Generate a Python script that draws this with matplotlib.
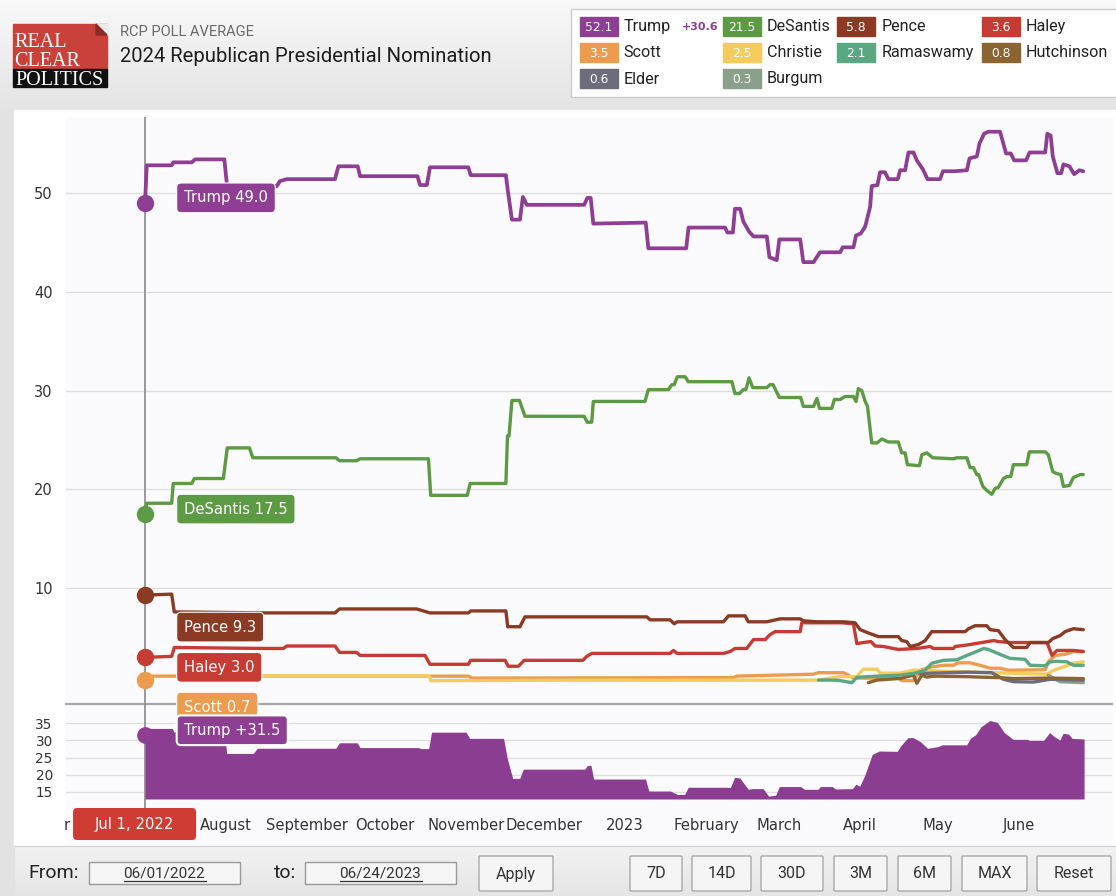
import datetime as dt
import numpy as np
import matplotlib
matplotlib.use("Agg")
import matplotlib.pyplot as plt
from matplotlib.patches import Rectangle, FancyBboxPatch, Polygon

W, H = 1116, 896
START = dt.date(2022, 7, 1)

# ---------------- data: (days after Jul 1 2022, value) ----------------
TRUMP = [(0, 49.0), (0.65, 52.8), (10.2, 52.8), (10.8, 53.1), (17.9, 53.1), (19.2, 53.4), (30.4, 53.4),
         (31.3, 51.0), (32, 50.7), (50.5, 50.7), (51.7, 51.2), (54.3, 51.4), (72.8, 51.4), (74.1, 52.7),
         (81.5, 52.7), (82.4, 51.7), (104.4, 51.7), (105.4, 50.8), (108.0, 50.8), (109.2, 52.6), (123.9, 52.6),
         (124.8, 51.8), (138.3, 51.8), (139.0, 50.3), (140.6, 47.3), (143.7, 47.3), (144.8, 49.6), (146.3, 48.8),
         (168.3, 48.8), (169.5, 49.5), (170.8, 49.5), (171.8, 46.9), (191.9, 47.0), (192.9, 44.4), (207.4, 44.4),
         (208.3, 46.5), (222.3, 46.5), (223.2, 46.0), (225.3, 46.0), (226.1, 48.4), (228.1, 48.4), (229.3, 47.1),
         (231.5, 46.1), (233.2, 45.6), (238.3, 45.6), (239.3, 43.5), (242.1, 43.2), (243.1, 45.3), (251.1, 45.3),
         (252.3, 43.0), (256.2, 43.0), (258.7, 44.0), (266.4, 44.0), (267.4, 44.5), (271.5, 44.5), (272.5, 45.7),
         (274.3, 45.9), (276.0, 46.6), (277.9, 48.6), (278.5, 50.7), (280.7, 50.8), (281.7, 52.1), (283.6, 52.1),
         (284.9, 51.4), (288.5, 51.4), (289.4, 52.3), (291.3, 52.3), (292.6, 54.1), (294.5, 54.1), (295.8, 53.3),
         (298.1, 52.4), (299.9, 51.4), (304.7, 51.4), (305.8, 52.2), (310.2, 52.2), (315.0, 52.3), (316.0, 53.5),
         (318.8, 53.7), (319.8, 55.0), (321.6, 56.0), (323.2, 56.2), (327.7, 56.2), (330.0, 54.0), (331.8, 54.0),
         (333.1, 53.3), (337.7, 53.3), (339.0, 54.1), (345.0, 54.1), (345.8, 56.0), (347.1, 55.8), (347.9, 53.7),
         (349.7, 52.0), (351.1, 52.0), (352.0, 52.9), (354.3, 52.7), (356.1, 51.9), (358.1, 52.3), (359.6, 52.2)]

DESANTIS = [(0, 17.5), (0.65, 18.6), (10.2, 18.6), (10.8, 20.6), (17.9, 20.6), (18.9, 21.1), (30.0, 21.1),
            (31.5, 24.2), (40.0, 24.2), (41.3, 23.2), (73.2, 23.2), (74.5, 22.9), (81.1, 22.9), (82.4, 23.1),
            (108.6, 23.1), (109.5, 19.4), (123.5, 19.4), (124.6, 20.6), (138.3, 20.6), (138.9, 25.4), (139.5, 25.4),
            (140.6, 29.0), (143.5, 29.0), (145.6, 27.4), (168.3, 27.4), (169.5, 26.8), (171.2, 26.8), (171.8, 28.9),
            (191.6, 28.9), (192.9, 30.1), (200.6, 30.1), (201.9, 30.6), (202.8, 30.6), (204.0, 31.4), (207.0, 31.4),
            (208.2, 30.9), (224.9, 30.9), (226.1, 29.7), (227.8, 29.7), (229.3, 30.1), (230.3, 30.1), (231.5, 31.3),
            (232.9, 30.3), (238.3, 30.3), (239.5, 30.6), (240.7, 30.6), (241.8, 30.0), (243.1, 29.3), (251.3, 29.3),
            (252.3, 28.4), (256.2, 28.4), (257.5, 29.2), (258.5, 28.2), (263.2, 28.2), (264.2, 29.1), (266.4, 29.1),
            (268.3, 29.4), (271.5, 29.4), (272.5, 28.9), (273.4, 30.2), (274.7, 30.0), (276.0, 28.9), (276.9, 28.4),
            (278.5, 24.7), (280.5, 24.7), (282.4, 25.1), (284.9, 24.8), (288.7, 24.8), (290.0, 23.7), (291.3, 23.7),
            (292.2, 22.5), (296.8, 22.4), (297.7, 23.5), (299.6, 23.7), (301.9, 23.2), (309.8, 23.1), (311.1, 23.2),
            (315.0, 23.2), (316.2, 22.2), (317.5, 22.2), (318.8, 21.5), (319.5, 21.5), (321.1, 20.3), (322.6, 19.9),
            (324.5, 19.5), (325.8, 20.1), (327.0, 20.2), (329.0, 21.1), (330.3, 21.3), (331.8, 21.3), (332.8, 22.5),
            (337.9, 22.5), (338.9, 23.8), (345.0, 23.8), (346.2, 23.5), (347.9, 21.8), (349.4, 21.6), (351.0, 21.5),
            (352.0, 20.3), (354.3, 20.4), (355.8, 21.2), (358.4, 21.5), (359.6, 21.5)]

PENCE = [(0, 9.3), (10.2, 9.4), (11.2, 7.6), (46, 7.5), (72.8, 7.5), (74.5, 7.9), (104.1, 7.9), (109.2, 7.5),
         (123.9, 7.5), (124.8, 7.7), (138.3, 7.7), (139.0, 6.1), (143.7, 6.1), (145.6, 7.1), (192.3, 7.1),
         (193.6, 6.8), (201.2, 6.8), (202.8, 6.4), (204.0, 6.6), (221.7, 6.6), (223.6, 7.2), (230.0, 7.2),
         (231.2, 6.6), (238.3, 6.6), (243.4, 6.9), (251.1, 6.9), (252.3, 6.7), (257.5, 6.6), (267.7, 6.6),
         (272.1, 6.5), (274.1, 5.8), (277.9, 5.4), (281.1, 5.1), (288.7, 5.1), (290.0, 4.7), (291.9, 4.6),
         (293.2, 4.1), (296.4, 4.3), (299.0, 4.7), (301.5, 5.6), (314.3, 5.6), (315.6, 5.9), (318.1, 6.2),
         (322.6, 6.2), (323.9, 5.8), (327.1, 5.7), (329.6, 4.8), (332.8, 4.0), (337.9, 4.0), (339.2, 4.5),
         (346.2, 4.5), (347.9, 4.9), (350.7, 5.2), (352.6, 5.6), (355.8, 5.9), (359.6, 5.8)]

HALEY = [(0, 3.0), (10.2, 3.1), (11.2, 4.0), (46, 3.9), (53.0, 3.9), (54.3, 4.15), (72.8, 4.15), (74.5, 3.5),
         (81.1, 3.5), (82.4, 3.2), (107.3, 3.2), (109.2, 2.3), (123.9, 2.3), (124.8, 2.7), (138.0, 2.7),
         (139.2, 2.1), (143.1, 2.1), (145.3, 2.7), (167.8, 2.7), (169.3, 3.1), (171.2, 3.4), (201.2, 3.4),
         (202.5, 3.7), (204.0, 3.4), (221.7, 3.4), (224.3, 3.6), (226.1, 3.9), (230.6, 3.9), (233.2, 4.8),
         (237.7, 4.8), (239.5, 5.3), (241.5, 5.6), (251.1, 5.6), (251.7, 6.5), (267.0, 6.5), (271.5, 6.4),
         (272.8, 4.4), (275.3, 4.5), (278.2, 4.6), (279.8, 4.15), (283.0, 4.1), (288.7, 3.8), (295.8, 3.9),
         (300.9, 4.1), (302.2, 3.9), (309.8, 3.9), (310.5, 4.1), (315.0, 4.25), (320.7, 4.5), (325.2, 4.7),
         (327.1, 4.6), (331.5, 4.5), (345.7, 4.5), (347.6, 3.2), (349.5, 3.7), (355.8, 3.7), (359.6, 3.6)]

SCOTT = [(0, 0.7), (0.6, 1.1), (123.9, 1.1), (125.3, 0.9), (225.4, 0.95), (226.8, 1.1), (256.2, 1.3),
         (258.1, 1.45), (267.7, 1.45), (269.6, 1.2), (271.5, 0.9), (288.7, 0.9), (290.0, 0.65), (294.5, 0.65),
         (297.1, 1.7), (300.9, 2.0), (306.0, 2.2), (309.8, 2.2), (311.7, 2.45), (316.2, 2.45), (320.0, 2.2),
         (323.9, 1.9), (327.7, 1.9), (330.9, 1.7), (345.0, 1.75), (346.2, 2.55), (348.8, 3.2), (352.6, 3.3),
         (355.8, 3.6), (359.6, 3.55)]

CHRISTIE = [(45, 1.1), (109, 1.1), (109.5, 0.64), (171, 0.7), (258.1, 0.7), (266.4, 1.05), (272.8, 1.05),
            (275.3, 1.8), (280.5, 1.8), (281.7, 1.4), (289.4, 1.4), (294.5, 1.7), (331.5, 1.4), (345.7, 1.3),
            (348.3, 1.7), (352.1, 2.05), (355.8, 2.4), (359.6, 2.55)]

RAMASWAMY = [(258.1, 0.7), (262.6, 0.7), (266.4, 0.65), (270.9, 0.44), (272.8, 0.98), (280.5, 1.1), (289.4, 1.2),
             (295.1, 1.4), (299.0, 1.7), (301.5, 2.4), (306.0, 2.7), (311.1, 2.75), (315.0, 3.2), (318.8, 3.6),
             (321.4, 3.9), (323.2, 3.8), (327.7, 3.3), (331.5, 2.9), (337.3, 2.8), (339.2, 2.2), (345.0, 2.15),
             (346.9, 2.55), (349.5, 2.6), (353.3, 2.55), (355.8, 2.2), (359.6, 2.2)]

HUTCHINSON = [(277.2, 0.44), (280.5, 0.7), (289.4, 0.87), (294.5, 1.2), (295.8, 0.37), (297.7, 1.2), (299.6, 1.0),
              (302.2, 1.1), (315.0, 1.05), (320.0, 1.0), (327.7, 0.95), (332.8, 0.85), (345.7, 0.9), (359.6, 0.85)]

ELDER = [(297.1, 1.3), (300.9, 1.4), (315.0, 1.5), (324.5, 1.45), (329.0, 0.78), (332.8, 0.54), (340.5, 0.5),
         (346.9, 0.78), (359.6, 0.7)]

BURGUM = [(346.2, 1.2), (350.7, 0.54), (359.6, 0.44)]

SPREAD = [(0, 31.5), (0.6, 33.5), (10.5, 33.5), (11, 32.5), (18, 32.5), (19, 32.3), (30.4, 32.3), (31.3, 26.2),
          (41.5, 26.2), (43, 27.7), (73.1, 27.7), (74.5, 29.3), (81.3, 29.3), (82.4, 27.9), (104.6, 27.9),
          (105.9, 27.6), (108.7, 27.6), (109.8, 32.4), (123.0, 32.4), (124.4, 30.6), (137.4, 30.6), (138.8, 24.8),
          (140.9, 18.9), (143.6, 18.9), (145.0, 21.6), (168.5, 21.6), (169.6, 22.7), (170.9, 22.7), (171.9, 18.7),
          (191.8, 18.7), (193.1, 15.2), (201.3, 15.2), (204.1, 14.2), (206.8, 14.2), (208.2, 16.3), (223.0, 16.3),
          (224.3, 16.2), (226.0, 19.2), (228.0, 19.0), (229.4, 17.5), (231.2, 15.7), (232.8, 15.9), (236.9, 15.9),
          (239.0, 13.7), (241.7, 14.0), (243.1, 16.5), (251.3, 16.5), (252.7, 15.7), (257.9, 15.7), (258.8, 16.5),
          (263.4, 16.5), (264.6, 15.8), (271.1, 15.9), (272.5, 17.2), (273.9, 16.6), (275.9, 19.9), (278.7, 25.9),
          (281.4, 26.9), (288.3, 26.8), (289.6, 28.4), (292.4, 30.8), (294.4, 30.8), (297.2, 29.6), (299.9, 27.7),
          (304.0, 28.2), (305.4, 28.7), (314.9, 28.7), (316.3, 30.6), (318.3, 31.6), (320.4, 34.0), (323.8, 35.8),
          (326.6, 35.3), (329.3, 32.3), (332.7, 30.3), (338.2, 30.3), (338.9, 30.0), (344.4, 30.0), (346.7, 32.3),
          (348.5, 31.1), (350.6, 30.1), (351.9, 32.1), (354.0, 31.8), (355.3, 30.6), (359.9, 30.4)]

CANDIDATES = ["Trump", "DeSantis", "Pence", "Haley", "Scott", "Christie",
              "Ramaswamy", "Hutchinson", "Elder", "Burgum"]
SERIES = [TRUMP, DESANTIS, PENCE, HALEY, SCOTT, CHRISTIE, RAMASWAMY, HUTCHINSON, ELDER, BURGUM]
LEGEND_VALUES = [52.1, 21.5, 5.8, 3.6, 3.5, 2.5, 2.1, 0.8, 0.6, 0.3]
SPREAD_NOW = 30.6
LABELLED = ["Trump", "DeSantis", "Pence", "Haley", "Scott"]

MONTH_DATES = [dt.date(2022, 6, 1), dt.date(2022, 8, 1), dt.date(2022, 9, 1), dt.date(2022, 10, 1),
               dt.date(2022, 11, 1), dt.date(2022, 12, 1), dt.date(2023, 1, 1), dt.date(2023, 2, 1),
               dt.date(2023, 3, 1), dt.date(2023, 4, 1), dt.date(2023, 5, 1), dt.date(2023, 6, 1)]
MONTH_LABELS = ["r", "August", "September", "October", "November", "December", "2023",
                "February", "March", "April", "May", "June"]
MAIN_YTICKS = [10, 20, 30, 40, 50]
LOW_YTICKS = [15, 20, 25, 30, 35]
CURSOR_LABEL = "Jul 1, 2022"
FROM_DATE, TO_DATE = "06/01/2022", "06/24/2023"
BUTTONS = ["7D", "14D", "30D", "3M", "6M", "MAX", "Reset"]

# ---------------- styles ----------------
COLORS = {"Trump": "#8e3e93", "DeSantis": "#5c9a43", "Pence": "#8b3a23", "Haley": "#c63b33",
          "Scott": "#eb9c4e", "Christie": "#f5cb5e", "Ramaswamy": "#5aa883", "Hutchinson": "#8b6432",
          "Elder": "#6c6c7c", "Burgum": "#8ba08a"}
LABEL_DY = {"Trump": 5, "DeSantis": 5, "Pence": -32, "Haley": -10, "Scott": -27}
SANS = ["DejaVu Sans"]
ROBOTO = ["Roboto", "DejaVu Sans"]
XMIN, XMAX = -30.3, 370.6

fig = plt.figure(figsize=(W / 100, H / 100), dpi=100, facecolor="#e6e6e6")


def px_rect(x0, y0, x1, y1):
    return [x0 / W, 1 - y1 / H, (x1 - x0) / W, (y1 - y0) / H]


def day_px(d):
    return 66 + (d - XMIN) / (XMAX - XMIN) * (1112 - 66)


# ---------------- background / page chrome ----------------
bg = fig.add_axes([0, 0, 1, 1], zorder=0)
bg.axis("off")
grad = np.linspace(0, 1, 64)[:, None, None]
top_c, bot_c = np.array([0.975, 0.975, 0.975]), np.array([0.895, 0.895, 0.895])
bg.imshow(top_c + (bot_c - top_c) * grad, extent=(0, W, 110, 0), aspect="auto", zorder=0)
grad2 = np.linspace(0, 1, 32)[:, None, None]
bg.imshow(np.array([0.95, 0.95, 0.95]) + (np.array([0.9, 0.9, 0.9]) - 0.95) * grad2,
          extent=(14, W, H, 846), aspect="auto", zorder=0)
bg.add_patch(Rectangle((0, 110), 14, H - 110, color="#e2e2e2", zorder=1))
bg.add_patch(Rectangle((14, 110), W - 14, 736, color="white", zorder=1))
bg.add_patch(Rectangle((66, 117), 1046, 728, color="#fbfbfd", zorder=1))
bg.plot([14, W], [846, 846], color="#d5d5d5", lw=1, zorder=2)
bg.set_xlim(0, W)
bg.set_ylim(H, 0)

# logo
bg.add_patch(Rectangle((13, 24), 94, 45, color="#c9413a", zorder=3))
bg.add_patch(Polygon([(96, 24), (107.5, 24), (107.5, 35.5)], closed=True, color="#ececec", zorder=4))
bg.add_patch(Polygon([(96, 24), (107, 35), (96, 35)], closed=True, color="#8e2a24", zorder=4))
bg.add_patch(Rectangle((13, 69), 94, 18, color="#111111", zorder=3))
logo_font = ["Liberation Serif", "DejaVu Serif"]
bg.text(14, 47, "REAL", color="white", fontsize=14.5, family=logo_font, va="baseline", zorder=5)
bg.text(14, 65.5, "CLEAR", color="white", fontsize=14.5, family=logo_font, va="baseline", zorder=5)
bg.text(60, 85, "POLITICS", color="white", fontsize=14.5, family=logo_font, va="baseline",
        ha="center", zorder=5)

bg.text(120, 32, "RCP POLL AVERAGE", fontsize=10.5, color="#6a6a6a", family=ROBOTO, va="center", zorder=5)
bg.text(120, 56, "2024 Republican Presidential Nomination", fontsize=14.6, color="#1e1e1e",
        family=ROBOTO, va="center", zorder=5)

# legend panel
bg.add_patch(Rectangle((571, 9), 560, 88, facecolor="white", edgecolor="#cccccc", lw=1, zorder=3))
col_x = [579.5, 723, 837.3, 982]
row_y = [26.7, 52.7, 79]
for i, (name, val) in enumerate(zip(CANDIDATES, LEGEND_VALUES)):
    r, c = divmod(i, 4)
    x0, yc = col_x[c], row_y[r]
    bg.add_patch(Rectangle((x0, yc - 9.5), 38, 19, color=COLORS[name], zorder=4))
    bg.text(x0 + 19, yc + 0.5, f"{val:.1f}", color="white", fontsize=8.8, family=SANS,
            ha="center", va="center", zorder=5)
    bg.text(x0 + 44, yc, name, color="#222222", fontsize=11.6, family=ROBOTO, va="center", zorder=5)
    if name == "Trump":
        bg.text(682, yc + 0.5, f"+{SPREAD_NOW:.1f}", color=COLORS["Trump"], fontsize=8,
                fontweight="bold", family=SANS, va="center", zorder=5)

# bottom controls
bg.text(28, 873, "From:", fontsize=14, color="#222222", family=ROBOTO, va="center", zorder=5)
bg.text(274, 873, "to:", fontsize=14, color="#222222", family=ROBOTO, va="center", zorder=5)
for (x0, x1), txt in zip([(89, 240), (305, 456)], [FROM_DATE, TO_DATE]):
    bg.add_patch(Rectangle((x0, 862), x1 - x0, 22, facecolor="#f6f6f6", edgecolor="#9a9a9a", lw=1, zorder=3))
    bg.text((x0 + x1) / 2, 873.5, txt, fontsize=11, color="#333333", family=ROBOTO,
            ha="center", va="center", zorder=5)
    bg.plot([(x0 + x1) / 2 - 41, (x0 + x1) / 2 + 41], [881.5, 881.5], color="#333333", lw=0.9, zorder=5)

btn_boxes = [(479, 553), (630, 682), (692, 751), (761, 823), (834, 887), (898, 951), (962, 1027), (1037, 1111)]
for (x0, x1), txt in zip(btn_boxes, ["Apply"] + BUTTONS):
    bg.add_patch(FancyBboxPatch((x0 + 1, 857), x1 - x0 - 2, 33, boxstyle="round,pad=1",
                                facecolor="#f5f5f5", edgecolor="#a9a9a9", lw=1, zorder=3))
    bg.text((x0 + x1) / 2, 874, txt, fontsize=11.5, color="#333333", family=ROBOTO,
            ha="center", va="center", zorder=5)

# ---------------- main chart ----------------
ax = fig.add_axes(px_rect(66, 117, 1112, 704), zorder=2)
ax.set_facecolor("none")
ax.set_xlim(XMIN, XMAX)
ax.set_ylim(-1.72, 57.69)
for s in ["top", "left", "right"]:
    ax.spines[s].set_visible(False)
ax.spines["bottom"].set_color("#a9a9a9")
ax.spines["bottom"].set_linewidth(1.6)
ax.set_yticks(MAIN_YTICKS)
ax.set_yticklabels([str(v) for v in MAIN_YTICKS], fontsize=10.5, color="#333333", family=SANS)
ax.tick_params(axis="y", length=0, pad=9.5)
ax.set_xticks([])
ax.grid(axis="y", color="#dedede", lw=1)
ax.set_axisbelow(True)
ax.axvline(0, color="#8a8a8a", lw=1.2, zorder=1.5)

order = ["Scott", "Christie", "Burgum", "Elder", "Hutchinson", "Ramaswamy", "Haley", "Pence",
         "DeSantis", "Trump"]
for name in order:
    data = SERIES[CANDIDATES.index(name)]
    d = np.array([p[0] for p in data])
    v = np.array([p[1] for p in data])
    ax.plot(d, v, color=COLORS[name], lw=2.7 if name == "Trump" else 2.4,
            solid_joinstyle="round", solid_capstyle="round", zorder=3)

for name in LABELLED:
    data = SERIES[CANDIDATES.index(name)]
    d0, v0 = data[0]
    ax.plot(d0, v0, "o", ms=11.5, color=COLORS[name], zorder=5, clip_on=False)
    ax.annotate(f"{name} {v0:.1f}", xy=(d0, v0), xytext=(39, LABEL_DY[name]), textcoords="offset pixels",
                ha="left", va="center", fontsize=10.6, family=SANS, color="white", zorder=6,
                annotation_clip=False,
                bbox=dict(boxstyle="round,pad=0.5,rounding_size=0.3", fc=COLORS[name], ec="white", lw=0.8))

# ---------------- spread chart ----------------
axl = fig.add_axes(px_rect(66, 704, 1112, 799), zorder=3)
axl.set_facecolor("none")
axl.set_xlim(XMIN, XMAX)
axl.set_ylim(12.87, 40.64)
for s in axl.spines.values():
    s.set_visible(False)
axl.set_yticks(LOW_YTICKS)
axl.set_yticklabels([str(v) for v in LOW_YTICKS], fontsize=9.8, color="#333333", family=SANS)
axl.tick_params(axis="y", length=0, pad=9.5)
axl.grid(axis="y", color="#dedede", lw=1)
axl.set_axisbelow(True)
sd = np.array([p[0] for p in SPREAD])
sv = np.array([p[1] for p in SPREAD])
axl.fill_between(sd, sv, 12.87, color="#8b3d91", lw=0, zorder=2)
axl.plot([0, 0], [10.0, 40.64], color="#8a8a8a", lw=1.2, zorder=1.5, clip_on=False)
axl.plot(sd[0], sv[0], "o", ms=11, color=COLORS["Trump"], zorder=5, clip_on=False)
axl.annotate(f"Trump +{sv[0]:.1f}", xy=(sd[0], sv[0]), xytext=(39, 5), textcoords="offset pixels",
             ha="left", va="center", fontsize=10.6, family=SANS, color="white", zorder=6,
             annotation_clip=False,
             bbox=dict(boxstyle="round,pad=0.5,rounding_size=0.3", fc=COLORS["Trump"], ec="white", lw=1.5))

tick_days = [(m - START).days for m in MONTH_DATES]
axl.set_xticks(tick_days)
axl.set_xticklabels(MONTH_LABELS, fontsize=10.6, color="#333333", family=SANS)
axl.tick_params(axis="x", length=0, pad=13.5)

# ---------------- cursor date box ----------------
ov = fig.add_axes([0, 0, 1, 1], zorder=6)
ov.set_facecolor("none")
ov.axis("off")
ov.set_xlim(0, W)
ov.set_ylim(H, 0)
cx = day_px(0) - 10.5
ov.add_patch(FancyBboxPatch((cx - 61.5 + 4, 808 + 4), 123 - 8, 32 - 8, boxstyle="round,pad=4",
                            facecolor="#cf3c33", edgecolor="none", zorder=2))
ov.text(cx, 824.5, CURSOR_LABEL, color="white", fontsize=10.6, family=SANS, ha="center", va="center", zorder=3)

fig.savefig("out.png", dpi=100, facecolor=fig.get_facecolor())
